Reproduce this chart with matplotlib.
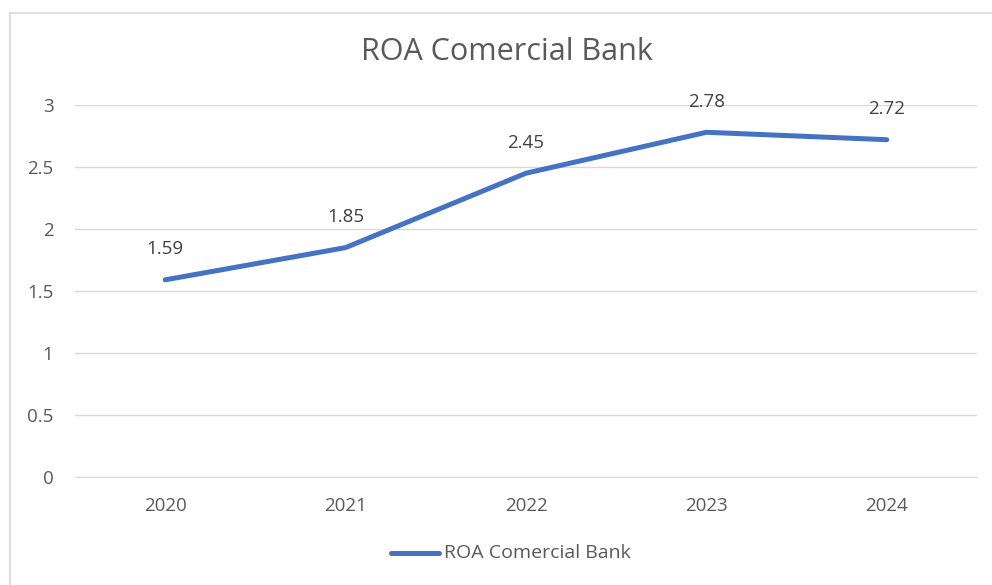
import matplotlib
matplotlib.use("Agg")
import matplotlib.pyplot as plt
from matplotlib.lines import Line2D

years = ["2020", "2021", "2022", "2023", "2024"]
roa = [1.59, 1.85, 2.45, 2.78, 2.72]
yticks = [0, 0.5, 1, 1.5, 2, 2.5, 3]
ytick_labels = ["0", "0.5", "1", "1.5", "2", "2.5", "3"]
title = "ROA Comercial Bank"
series_name = "ROA Comercial Bank"

plt.rcParams['font.family'] = ['Open Sans', 'DejaVu Sans']
W, H = 992, 585
fig = plt.figure(figsize=(W / 100, H / 100), dpi=100)

# chart border
fig.add_artist(Line2D([9.5 / W, 9.5 / W], [0, 1 - 12.5 / H], color="#D9D9D9", lw=1.2))
fig.add_artist(Line2D([9.5 / W, 1], [1 - 12.5 / H, 1 - 12.5 / H], color="#D9D9D9", lw=1.2))

ax = fig.add_axes([75 / W, 1 - 477 / H, (977 - 75) / W, (477 - 105) / H])
x = list(range(len(years)))
line_color = "#4472C4"
ax.plot(x, roa, color=line_color, lw=3.6, solid_capstyle="round", solid_joinstyle="round", zorder=3)
for xi, v in zip(x, roa):
    ax.annotate(f"{v:.2f}", (xi, v), xytext=(0, 22), textcoords="offset points",
                ha="center", va="center", fontsize=13.5, color="#404040")

ax.set_xlim(-0.5, len(years) - 0.5)
ax.set_ylim(0, 3)
ax.set_yticks(yticks)
ax.set_yticklabels(ytick_labels)
ax.set_xticks(x)
ax.set_xticklabels(years)
ax.yaxis.grid(True, color="#D9D9D9", lw=1)
ax.set_axisbelow(True)
for s in ["top", "right", "left"]:
    ax.spines[s].set_visible(False)
ax.spines["bottom"].set_color("#D9D9D9")
ax.tick_params(axis="both", length=0, labelsize=13.5, labelcolor="#595959")
ax.tick_params(axis="y", pad=15.5)
ax.tick_params(axis="x", pad=14.5)

fig.text(507 / W, 1 - 52 / H, title, ha="center", va="center", fontsize=22, color="#595959")

# legend
leg_y = 1 - 553 / H
fig.add_artist(Line2D([391 / W, 439 / W], [leg_y, leg_y], color=line_color, lw=3.6, solid_capstyle="round"))
fig.text(444 / W, leg_y, series_name, ha="left", va="center", fontsize=14, color="#595959")

fig.savefig("out.png", dpi=100)
